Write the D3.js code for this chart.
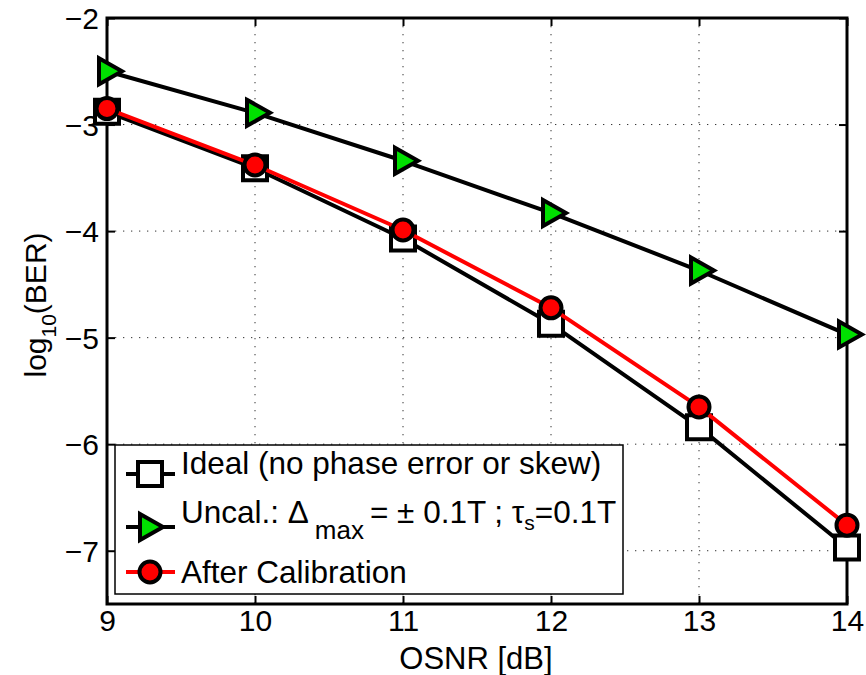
<!DOCTYPE html>
<html>
<head>
<meta charset="utf-8">
<script src="https://cdn.jsdelivr.net/npm/d3@7"></script>
<style>
  body { margin: 0; background: #fff; }
  svg { display: block; font-family: "Liberation Sans", Arial, Helvetica, sans-serif; }
</style>
</head>
<body>
<div id="chart"></div>
<script>
// OSNR values (x) and log10(BER) per curve
var osnr = [9, 10, 11, 12, 13, 14];
var ideal = [-2.88, -3.41, -4.07, -4.87, -5.84, -6.97];
var uncal = [-2.50, -2.89, -3.34, -3.83, -4.37, -4.97];
var afterCal = [-2.85, -3.38, -3.99, -4.72, -5.65, -6.76];
var xTicks = [9, 10, 11, 12, 13, 14];
var yTicks = [-2, -3, -4, -5, -6, -7];

var W = 866, H = 675;
var plot = { left: 107, right: 847, top: 18, bottom: 604 };

var svg = d3.select("#chart").append("svg")
    .attr("width", W)
    .attr("height", H);

var x = d3.scaleLinear().domain([9, 14]).range([plot.left, plot.right]);
var y = d3.scaleLinear().domain([-7.5, -2]).range([plot.bottom, plot.top]);

//dotted grid
var grid = svg.append("g")
    .attr("stroke", "#333")
    .attr("stroke-width", 1)
    .attr("stroke-dasharray", "1.3,6.7");
grid.selectAll("line.gx")
    .data(xTicks.slice(1, -1))
    .enter().append("line")
    .attr("x1", function(d) { return x(d); })
    .attr("x2", function(d) { return x(d); })
    .attr("y1", plot.top)
    .attr("y2", plot.bottom);
grid.selectAll("line.gy")
    .data(yTicks.slice(1))
    .enter().append("line")
    .attr("y1", function(d) { return y(d); })
    .attr("y2", function(d) { return y(d); })
    .attr("x1", plot.left)
    .attr("x2", plot.right);

//axes with inward ticks on all four sides
var fontSize = 30;
var xAxis = d3.axisBottom(x).tickValues(xTicks).tickSizeInner(-8).tickSizeOuter(0).tickPadding(6)
    .tickFormat(d3.format("d"));
var yAxis = d3.axisLeft(y).tickValues(yTicks).tickSizeInner(-8).tickSizeOuter(0).tickPadding(8)
    .tickFormat(function(d) { return "\u2212" + Math.abs(d); });

var gx = svg.append("g").attr("transform", "translate(0," + plot.bottom + ")").call(xAxis);
var gy = svg.append("g").attr("transform", "translate(" + plot.left + ",0)").call(yAxis);
var gxt = svg.append("g").attr("transform", "translate(0," + plot.top + ")")
    .call(d3.axisTop(x).tickValues(xTicks).tickSizeInner(-8).tickSizeOuter(0).tickFormat(""));
var gyr = svg.append("g").attr("transform", "translate(" + plot.right + ",0)")
    .call(d3.axisRight(y).tickValues(yTicks).tickSizeInner(-8).tickSizeOuter(0).tickFormat(""));

[gx, gy, gxt, gyr].forEach(function(g) {
    g.select(".domain").remove();
    g.selectAll(".tick line").attr("stroke", "#000").attr("stroke-width", 2);
    g.selectAll("text")
        .attr("font-family", "Liberation Sans, Arial, sans-serif")
        .attr("font-size", fontSize)
        .attr("fill", "#000");
});
gy.selectAll("text").attr("dy", "0.36em");

//box
svg.append("rect")
    .attr("x", plot.left)
    .attr("y", plot.top)
    .attr("width", plot.right - plot.left)
    .attr("height", plot.bottom - plot.top)
    .attr("fill", "none")
    .attr("stroke", "#000")
    .attr("stroke-width", 3);

//axis labels
svg.append("text")
    .attr("x", 476)
    .attr("y", 669)
    .attr("text-anchor", "middle")
    .attr("font-size", 31)
    .text("OSNR [dB]");

var yl = svg.append("text")
    .attr("transform", "translate(46,305) rotate(-90)")
    .attr("text-anchor", "middle")
    .attr("font-size", 30);
yl.append("tspan").text("log");
yl.append("tspan").attr("font-size", 21).attr("dy", 10).text("10");
yl.append("tspan").attr("dy", -10).text("(BER)");

//markers
var square = "M-12,-12H12V12H-12Z";
var tri = "M-8,-13L15,0L-8,13Z";
var series = [
    { name: "ideal", values: ideal, line: "#000", fill: "#fff", marker: "square" },
    { name: "uncal", values: uncal, line: "#000", fill: "#00e000", marker: "tri" },
    { name: "cal", values: afterCal, line: "#ff0000", fill: "#ff0000", marker: "circle" }
];

var lineGen = d3.line()
    .x(function(d, i) { return x(osnr[i]); })
    .y(function(d) { return y(d); });

function drawMarker(g, type, fill) {
    var m;
    if (type === "circle") {
        m = g.append("circle").attr("r", 10.5);
    } else {
        m = g.append("path").attr("d", type === "square" ? square : tri);
    }
    m.attr("fill", fill)
        .attr("stroke", "#000")
        .attr("stroke-width", 4)
        .attr("stroke-linejoin", "miter");
    return m;
}

series.forEach(function(s) {
    svg.append("path")
        .datum(s.values)
        .attr("d", lineGen)
        .attr("fill", "none")
        .attr("stroke", s.line)
        .attr("stroke-width", 4)
        .attr("stroke-linejoin", "round");
    s.values.forEach(function(v, i) {
        var g = svg.append("g").attr("transform", "translate(" + x(osnr[i]) + "," + y(v) + ")");
        drawMarker(g, s.marker, s.fill);
    });
});

//legend
var lg = svg.append("g");
lg.append("rect")
    .attr("x", 115)
    .attr("y", 445)
    .attr("width", 508)
    .attr("height", 149)
    .attr("fill", "#fff")
    .attr("stroke", "#000")
    .attr("stroke-width", 1.5);

var rows = [474, 527, 572];
series.forEach(function(s, i) {
    lg.append("line")
        .attr("x1", 126)
        .attr("x2", 175)
        .attr("y1", rows[i])
        .attr("y2", rows[i])
        .attr("stroke", s.line)
        .attr("stroke-width", 4);
    var g = lg.append("g").attr("transform", "translate(" + (s.marker === "tri" ? 148 : 150) + "," + rows[i] + ")");
    drawMarker(g, s.marker, s.fill);
});

var legText = lg.append("g").attr("font-size", 31.5).attr("fill", "#000");
legText.append("text").attr("x", 181).attr("y", 474).text("Ideal (no phase error or skew)");
var t2 = legText.append("text").attr("x", 181).attr("y", 523);
t2.append("tspan").text("Uncal.: \u0394");
t2.append("tspan").attr("dx", 6).attr("dy", 16).attr("font-size", 26).text("max");
t2.append("tspan").attr("dx", 6).attr("dy", -16).text("= \u00b1 0.1T ; \u03c4");
t2.append("tspan").attr("dy", 7).attr("font-size", 21).text("s");
t2.append("tspan").attr("dy", -7).text("=0.1T");
legText.append("text").attr("x", 181).attr("y", 583).text("After Calibration");
</script>
</body>
</html>
